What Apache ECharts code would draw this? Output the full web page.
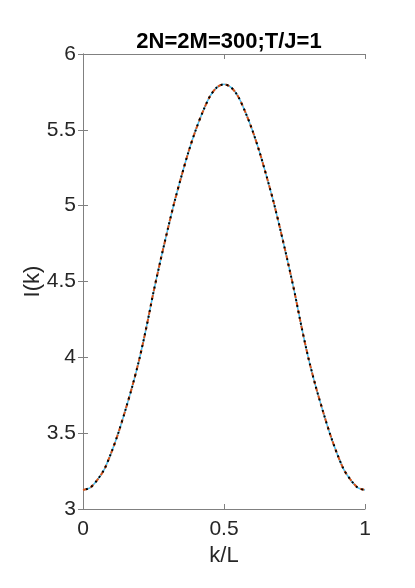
<!DOCTYPE html>
<html><head><meta charset="utf-8">
<script src="https://cdn.jsdelivr.net/npm/echarts@6/dist/echarts.min.js"></script>
<style>html,body{margin:0;padding:0;background:#fff}#c{width:415px;height:588px}</style>
</head><body><div id="c"></div>
<script>
const titleText = "2N=2M=300;T/J=1";
const xName = "k/L";
const yName = "I(k)";
const kValues = [0,0.025,0.05,0.075,0.1,0.125,0.15,0.175,0.2,0.225,0.25,0.275,0.3,0.325,0.35,0.375,0.4,0.425,0.45,0.475,0.5,
                 0.525,0.55,0.575,0.6,0.625,0.65,0.675,0.7,0.725,0.75,0.775,0.8,0.825,0.85,0.875,0.9,0.925,0.95,0.975,1];
const iValues = [3.125,3.14,3.19,3.26,3.37,3.50,3.65,3.81,3.99,4.20,4.43,4.64,4.84,5.03,5.20,5.36,5.50,5.62,5.72,5.78,5.80,
                 5.78,5.72,5.62,5.50,5.36,5.20,5.03,4.84,4.64,4.43,4.20,3.99,3.81,3.65,3.50,3.37,3.26,3.19,3.14,3.125];
const xTicks = [0,0.5,1];
const yTicks = [3,3.5,4,4.5,5,5.5,6];

const pts = kValues.map((k,i)=>[k,iValues[i]]);
const font = "Liberation Sans, Arial, Helvetica, sans-serif";
const axCol = "#262626";
const boxCol = "#808080";
const chart = echarts.init(document.getElementById('c'));
const lineBase = {type:'line', data:pts, smooth:0.3, showSymbol:false, symbol:'none', animation:false, xAxisIndex:0, yAxisIndex:0};
chart.setOption({
  animation:false,
  title:{text:titleText, left:224, top:26, textAlign:'center', textStyle:{fontFamily:font, fontSize:22, fontWeight:'bold', color:'#000'}},
  grid:{left:83, right:50, top:54, bottom:79, show:false},
  xAxis:[
    {type:'value', min:0, max:1, interval:0.5, position:'bottom', name:xName, nameLocation:'middle', nameGap:36, nameMoveOverlap:false,
     nameTextStyle:{fontFamily:font, fontSize:22, color:axCol},
     axisLine:{show:true, lineStyle:{color:boxCol, width:1}},
     axisTick:{show:true, inside:true, length:5, lineStyle:{color:boxCol}},
     axisLabel:{fontFamily:font, fontSize:21, color:axCol, margin:10, formatter:v=>xTicks.includes(v)?String(v):''},
     splitLine:{show:false}},
    {type:'value', min:0, max:1, interval:0.5, position:'top',
     axisLine:{show:true, lineStyle:{color:boxCol, width:1}},
     axisTick:{show:true, inside:true, length:5, lineStyle:{color:boxCol}},
     axisLabel:{show:false}, splitLine:{show:false}}
  ],
  yAxis:[
    {type:'value', min:3, max:6, interval:0.5, position:'left', name:yName, nameLocation:'middle', nameGap:39, nameRotate:90, nameMoveOverlap:false,
     nameTextStyle:{fontFamily:font, fontSize:22, color:axCol},
     axisLine:{show:true, lineStyle:{color:boxCol, width:1}},
     axisTick:{show:true, inside:true, length:5, lineStyle:{color:boxCol}},
     axisLabel:{fontFamily:font, fontSize:21, color:axCol, margin:7, formatter:v=>yTicks.includes(v)?String(v):''},
     splitLine:{show:false}},
    {type:'value', min:3, max:6, interval:0.5, position:'right',
     axisLine:{show:true, lineStyle:{color:boxCol, width:1}},
     axisTick:{show:true, inside:true, length:5, lineStyle:{color:boxCol}},
     axisLabel:{show:false}, splitLine:{show:false}}
  ],
  series:[
    Object.assign({}, lineBase, {lineStyle:{color:'#4DBEEE', width:1.5}}),
    Object.assign({}, lineBase, {lineStyle:{color:'#D95319', width:2, type:[4,4]}}),
    Object.assign({}, lineBase, {lineStyle:{color:'#000', width:2, type:[2,4], dashOffset:3}})
  ]
});
</script></body></html>
